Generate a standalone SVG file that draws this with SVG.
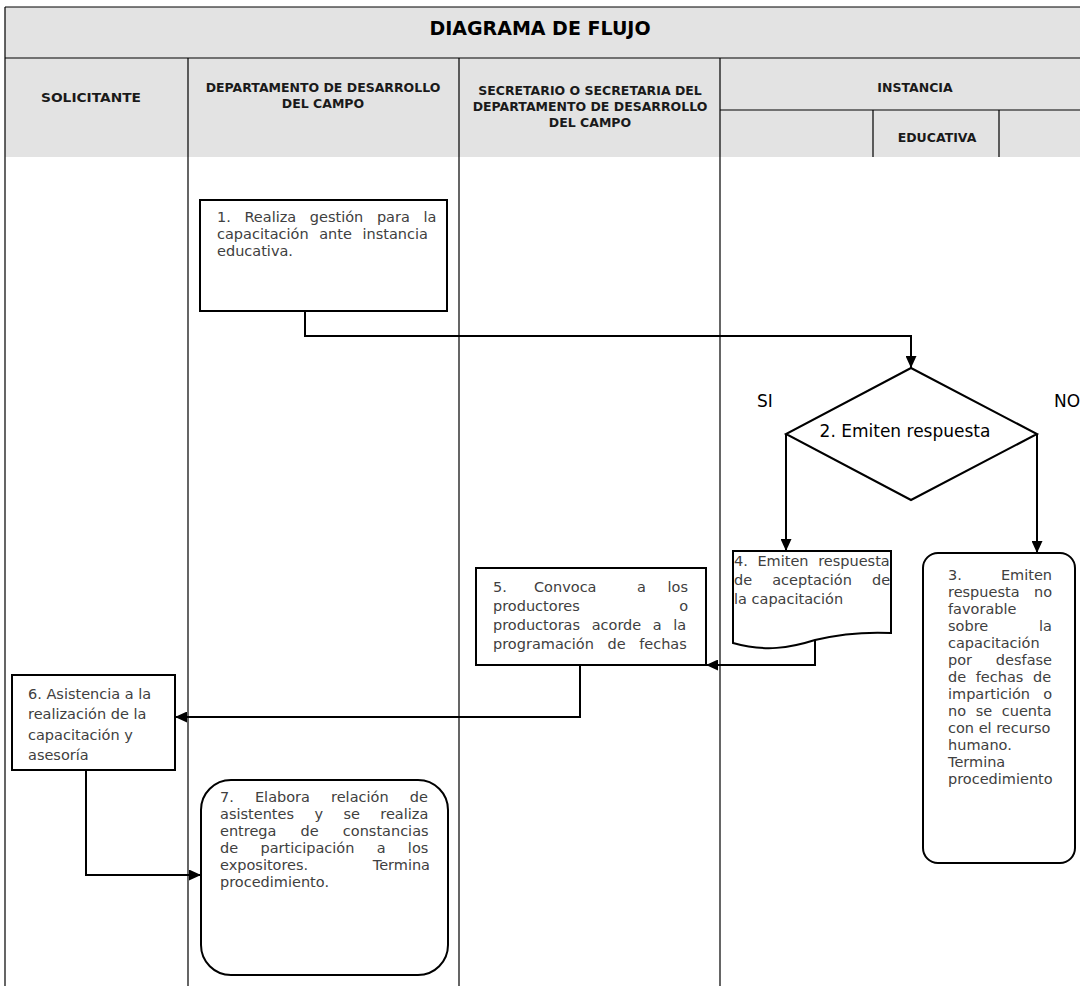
<svg xmlns="http://www.w3.org/2000/svg" width="1080" height="986" viewBox="0 0 1080 986">
<style>
.lane{stroke:#000;stroke-width:1.2;fill:none}
.hdr{font-family:"DejaVu Sans",sans-serif;font-weight:bold;font-size:12.5px;fill:#1a1a1a;text-anchor:middle}
.title{font-family:"DejaVu Sans",sans-serif;font-weight:bold;font-size:19px;fill:#000;text-anchor:middle}
.box{fill:#fff;stroke:#000;stroke-width:2}
.t{font-family:"DejaVu Sans",sans-serif;font-size:14.5px;fill:#404040}
.e{text-anchor:end}
.lbl{font-family:"DejaVu Sans",sans-serif;font-size:17px;fill:#000}
.conn path{fill:none;stroke:#000;stroke-width:2;marker-end:url(#ah)}
</style>
<defs>
<marker id="ah" markerUnits="userSpaceOnUse" markerWidth="12" markerHeight="11" viewBox="0 0 12 11" refX="12" refY="5.5" orient="auto">
<path d="M0,0 L12,5.5 L0,11 Z" fill="#000"/>
</marker>
</defs>
<rect width="1080" height="986" fill="#fff"/>
<g id="header">
<rect x="5" y="7" width="1075" height="150" fill="#e3e3e3"/>
<path class="lane" d="M5,7 H1080 M5,7 V986 M5,58 H1080 M188,58 V986 M459,58 V986 M720,58 V986 M720,110 H1080 M873,110 V157 M999,110 V157"/>
<text class="title" x="540" y="35">DIAGRAMA DE FLUJO</text>
<text class="hdr" x="91" y="102" textLength="100" lengthAdjust="spacingAndGlyphs">SOLICITANTE</text>
<text class="hdr" x="323" y="92">DEPARTAMENTO DE DESARROLLO</text>
<text class="hdr" x="323" y="108">DEL CAMPO</text>
<text class="hdr" x="590" y="95">SECRETARIO O SECRETARIA DEL</text>
<text class="hdr" x="590" y="111">DEPARTAMENTO DE DESARROLLO</text>
<text class="hdr" x="590" y="127">DEL CAMPO</text>
<text class="hdr" x="915" y="92">INSTANCIA</text>
<text class="hdr" x="937" y="142">EDUCATIVA</text>
</g>
<g class="conn" id="connectors">
<path d="M305,311 V336 H911 V368"/>
<path d="M786,434 V551"/>
<path d="M1037,434 V553"/>
<path d="M815,640 V665 H706"/>
<path d="M580,665 V717 H175"/>
<path d="M86,770 V875 H201"/>
</g>
<g id="node1">
<rect class="box" x="200" y="200" width="247" height="111"/>
<text class="t" x="217" y="222" word-spacing="9">1. Realiza gestión para la</text>
<text class="t" x="217" y="239" word-spacing="6">capacitación ante instancia</text>
<text class="t" x="217" y="256">educativa.</text>
</g>
<g id="node2">
<polygon class="box" points="911,368 1037,434 911,500 786,434"/>
<text class="lbl" x="905" y="437" text-anchor="middle" font-size="15.5" fill="#333">2. Emiten respuesta</text>
<text class="lbl" x="757" y="407">SI</text>
<text class="lbl" x="1054" y="407">NO</text>
</g>
<g id="node3">
<rect class="box" x="923" y="553" width="152" height="310" rx="15"/>
<text class="t" x="948" y="580">3.</text><text class="t e" x="1052" y="580">Emiten</text>
<text class="t" x="948" y="597">respuesta</text><text class="t e" x="1052" y="597">no</text>
<text class="t" x="948" y="614">favorable</text>
<text class="t" x="948" y="631">sobre</text><text class="t e" x="1052" y="631">la</text>
<text class="t" x="948" y="648">capacitación</text>
<text class="t" x="948" y="665">por</text><text class="t e" x="1052" y="665">desfase</text>
<text class="t" x="948" y="682" word-spacing="5">de fechas de</text>
<text class="t" x="948" y="699">impartición</text><text class="t e" x="1052" y="699">o</text>
<text class="t" x="948" y="716" word-spacing="5">no se cuenta</text>
<text class="t" x="948" y="733">con el recurso</text>
<text class="t" x="948" y="750">humano.</text>
<text class="t" x="948" y="767">Termina</text>
<text class="t" x="948" y="784">procedimiento</text>
</g>
<g id="node4">
<path class="box" d="M733,551 H891 V633 C870,632 840,634 815,640 C790,648 765,652 733,643 Z"/>
<text class="t" x="734" y="566" word-spacing="5">4. Emiten respuesta</text>
<text class="t" x="734" y="585" word-spacing="15.5">de aceptación de</text>
<text class="t" x="734" y="604">la capacitación</text>
</g>
<g id="node5">
<rect class="box" x="476" y="568" width="230" height="97"/>
<text class="t" x="493" y="592">5.</text><text class="t" x="534" y="592">Convoca</text><text class="t" x="637" y="592">a</text><text class="t e" x="688" y="592">los</text>
<text class="t" x="493" y="611">productores</text><text class="t e" x="688" y="611">o</text>
<text class="t" x="493" y="630" word-spacing="7">productoras acorde a la</text>
<text class="t" x="493" y="649" word-spacing="9">programación de fechas</text>
</g>
<g id="node6">
<rect class="box" x="12" y="675" width="163" height="95"/>
<text class="t" x="28" y="699" font-size="15">6. Asistencia a la</text>
<text class="t" x="28" y="719" font-size="15">realización de la</text>
<text class="t" x="28" y="740" font-size="15">capacitación y</text>
<text class="t" x="28" y="760" font-size="15">asesoría</text>
</g>
<g id="node7">
<rect class="box" x="201" y="780" width="247" height="195" rx="30"/>
<text class="t" x="220" y="802" word-spacing="16.5">7. Elabora relación de</text>
<text class="t" x="220" y="819" word-spacing="15.8">asistentes y se realiza</text>
<text class="t" x="220" y="836" word-spacing="19.5">entrega de constancias</text>
<text class="t" x="220" y="853" word-spacing="17.7">de participación a los</text>
<text class="t" x="220" y="870">expositores.</text><text class="t e" x="430" y="870">Termina</text>
<text class="t" x="220" y="887">procedimiento.</text>
</g>
</svg>
